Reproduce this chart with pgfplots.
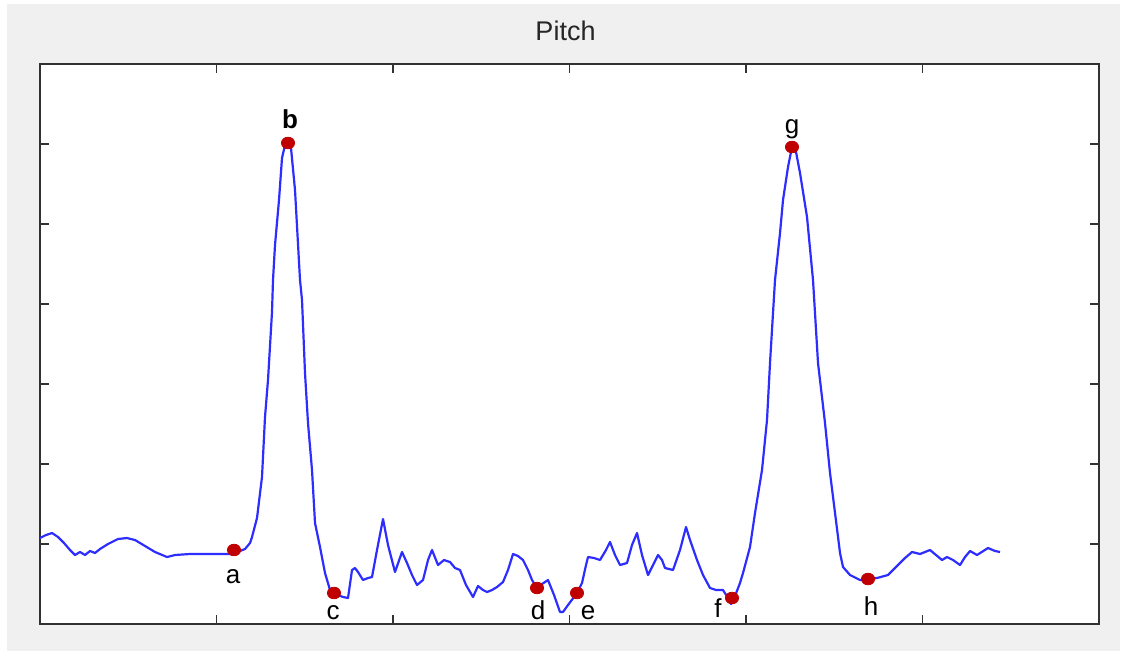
\documentclass[border=0pt]{standalone}
\usepackage{pgfplots}
\pgfplotsset{compat=1.18}
\usepackage{fontspec}
\setmainfont{Liberation Sans}
\definecolor{figgray}{RGB}{240,240,240}
\definecolor{axcol}{RGB}{50,50,50}
\definecolor{titlecol}{RGB}{38,38,38}
\definecolor{linecol}{RGB}{45,45,255}
\definecolor{dotcol}{RGB}{192,0,0}
\begin{document}
\begin{tikzpicture}
\fill[white] (-20pt,-15.5pt) rectangle (543.5pt,312pt);
\fill[figgray] (-16.5pt,-13.5pt) rectangle (540pt,310pt);
\begin{axis}[
  at={(0,0)}, anchor=south west,
  scale only axis, width=529.5pt, height=280pt,
  xmin=0, xmax=1059, ymin=0, ymax=560,
  axis background/.style={fill=white},
  axis line style={draw=axcol, line width=0.8pt},
  xtick={0,176.5,353,529.5,706,882.5,1059},
  ytick={0,80,160,240,320,400,480,560},
  xticklabels={}, yticklabels={},
  tick style={draw=axcol, line width=0.8pt},
  major tick length=4.5pt,
  tick align=inside,
  clip=false,
]
\addplot[linecol, line width=1.1pt, line join=round] coordinates {
(0,86)(6,89)(12,91)(18,87)(24,81)(30,74)(35,69)(40,72)(45,69)(50,73)(55,71)(60,75)(68,80)(78,85)(87,86)(95,84)(105,78)(115,72)(127,67)(135,69)(150,70)(192,70)(200,73)(205,75)(210,81)(212,87)(217,106)(222,147)(225,207)(228,244)(232,312)(233,344)(235,379)(239,424)(242,466)(245,479)(248,481)(251,476)(255,434)(260,344)(262,324)(265,251)(268,201)(272,154)(275,101)(280,77)(285,51)(290,34)(295,30)(303,27)(308,26)(312,54)(315,56)(318,52)(323,44)(328,46)(332,47)(337,74)(343,105)(348,79)(355,52)(362,72)(367,61)(372,49)(377,39)(383,44)(388,64)(392,74)(398,59)(404,64)(410,62)(415,56)(420,54)(426,39)(433,27)(438,38)(443,34)(447,32)(452,34)(457,37)(463,42)(468,54)(473,70)(478,68)(483,64)(488,54)(492,44)(497,36)(502,40)(508,44)(514,29)(520,12)(523,12)(528,19)(537,31)(542,41)(546,59)(548,67)(554,66)(560,64)(566,74)(570,82)(575,69)(580,59)(587,61)(592,79)(597,91)(602,69)(608,49)(613,59)(618,69)(622,64)(625,56)(633,54)(640,74)(646,97)(650,84)(657,64)(663,49)(670,36)(676,34)(683,34)(688,26)(691,20)(695,28)(700,41)(703,51)(710,77)(715,111)(722,154)(727,204)(730,261)(733,311)(735,344)(740,391)(743,424)(748,457)(752,477)(756,472)(760,451)(767,407)(773,344)(778,261)(785,201)(790,151)(795,111)(800,71)(803,57)(810,49)(820,44)(828,45)(837,46)(848,49)(856,57)(865,66)(872,72)(880,70)(890,74)(902,64)(907,67)(913,64)(920,59)(925,67)(930,73)(937,69)(948,76)(955,73)(960,72)
};
\addplot[only marks, mark=*, mark size=3.3pt, mark options={fill=dotcol, draw=dotcol, yscale=0.88}] coordinates {
(194,74)(248,481)(294,31)(497,36)(537,31)(692,26)(752,477)(828,45)
};
\begin{scope}[every node/.style={anchor=base, inner sep=0pt, font=\fontsize{13pt}{15pt}\selectfont}]
\node at (axis cs:193,41) {a};
\node at (axis cs:250,496) {\bfseries b};
\node at (axis cs:293,5) {c};
\node at (axis cs:498,5) {d};
\node at (axis cs:548,5) {e};
\node at (axis cs:678,7) {f};
\node at (axis cs:752,491) {g};
\node at (axis cs:831,9) {h};
\end{scope}
\node[anchor=base, inner sep=0pt, text=titlecol, font=\fontsize{13.5pt}{15pt}\selectfont] at (axis cs:525.5,583) {Pitch};
\end{axis}
\end{tikzpicture}
\end{document}
